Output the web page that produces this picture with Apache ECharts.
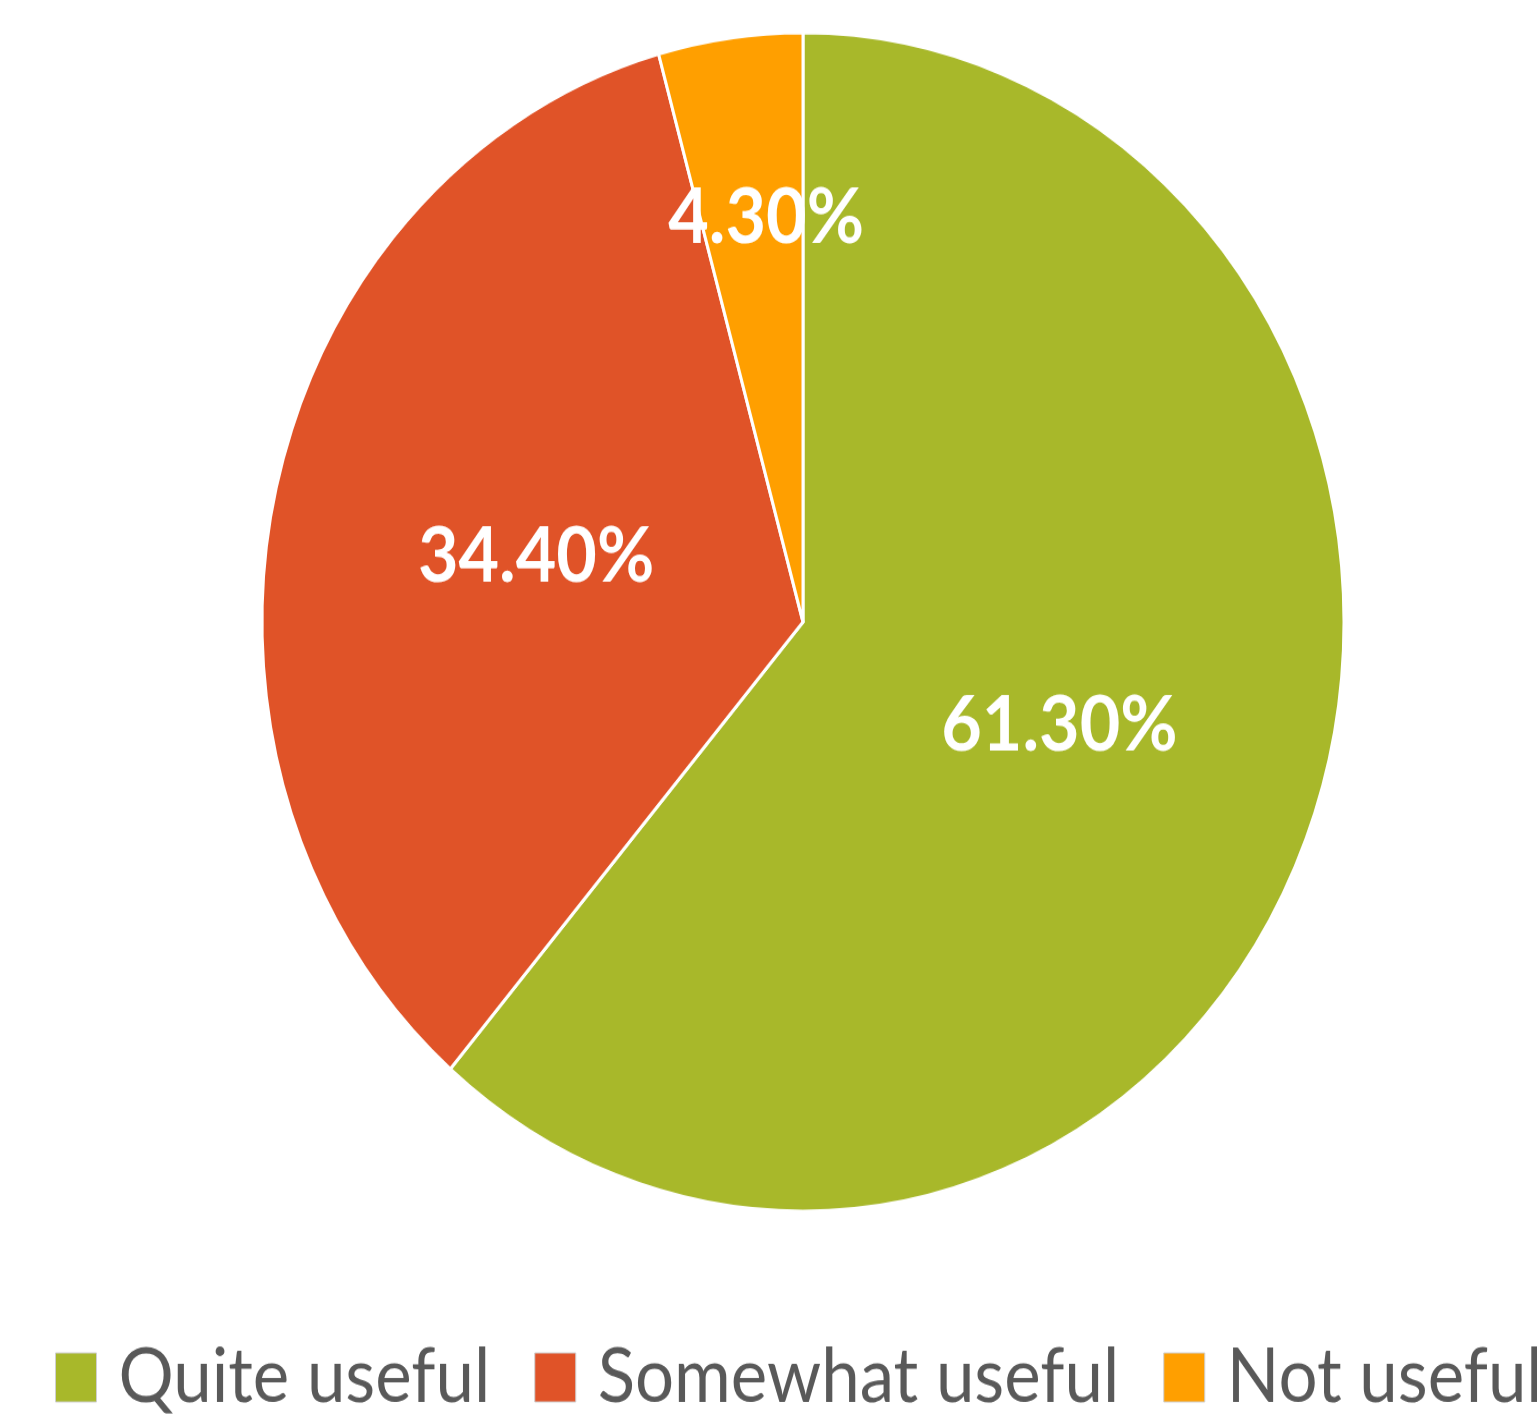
<!DOCTYPE html>
<html>
<head>
<meta charset="utf-8">
<script src="https://cdn.jsdelivr.net/npm/echarts@6/dist/echarts.min.js"></script>
<style>
  html { margin: 0; padding: 0; background: #fff; overflow: hidden; }
  body { margin: 0; padding: 0; background: #fff; width: 1537px; height: 1414px; overflow: hidden; }
  /* the pie is drawn as an upright ellipse: stretch the chart vertically */
  #chart { width: 1700px; height: 1298px; transform: scaleY(1.0893); transform-origin: 0 0; }
</style>
</head>
<body>
<div id="chart"></div>
<script>
// Survey answers and their shares (percent)
const categories = ['Quite useful', 'Somewhat useful', 'Not useful'];
const shares = [61.3, 34.4, 4.3];
const colors = ['#A8B82A', '#E05328', '#FF9F00'];

const chart = echarts.init(document.getElementById('chart'), null, { renderer: 'canvas' });

chart.setOption({
  animation: false,
  color: colors,
  legend: {
    data: categories,
    left: 50,
    top: 1225,
    icon: 'rect',
    itemWidth: 41,
    itemHeight: 45,
    itemGap: 44,
    itemStyle: { borderColor: '#cfcfcf', borderWidth: 1 },
    textStyle: {
      fontFamily: 'Lato',
      fontSize: 69,
      color: '#595959',
      padding: [0, 0, 0, 17]
    }
  },
  series: [{
    type: 'pie',
    center: [803, 571],
    radius: 541,
    startAngle: 90,
    clockwise: true,
    itemStyle: { borderColor: '#ffffff', borderWidth: 3 },
    label: {
      show: true,
      position: 'inside',
      formatter: p => p.value.toFixed(2) + '%',
      color: '#ffffff',
      fontFamily: 'Lato',
      fontWeight: 'bold',
      fontSize: 70
    },
    // the thin slice's label sits further out, near the rim
    labelLayout: p => p.dataIndex === 2 ? { dy: -100 } : {},
    data: categories.map((name, i) => ({ name, value: shares[i] }))
  }]
});
</script>
</body>
</html>
